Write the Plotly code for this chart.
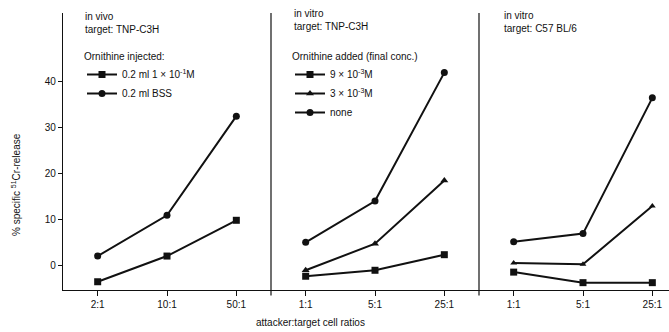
import plotly.graph_objects as go

# ---- data ----
p1_ratios = ["2:1", "10:1", "50:1"]
p2_ratios = ["1:1", "5:1", "25:1"]
p3_ratios = ["1:1", "5:1", "25:1"]

p1_orn = [-3.6, 2.0, 9.8]
p1_bss = [2.0, 10.9, 32.5]

p2_9e3 = [-2.4, -1.1, 2.3]
p2_3e3 = [-1.1, 4.7, 18.5]
p2_none = [5.0, 14.0, 42.0]

p3_9e3 = [-1.5, -3.8, -3.8]
p3_3e3 = [0.5, 0.2, 12.9]
p3_none = [5.1, 6.9, 36.5]

y_ticks = [0, 10, 20, 30, 40]

INK = "#111111"
FONT = "Liberation Sans, Arial, sans-serif"

fig = go.Figure()

def add(x, y, xa, symbol, size, name, legend, show):
    fig.add_trace(go.Scatter(
        x=x, y=y, xaxis=xa, yaxis="y", mode="lines+markers",
        line=dict(color=INK, width=2),
        marker=dict(symbol=symbol, size=size, color=INK),
        name=name, legend=legend, showlegend=show,
    ))

add(p1_ratios, p1_orn, "x", "square", 7, "0.2 ml 1 × 10<sup>-1</sup>M", "legend", True)
add(p1_ratios, p1_bss, "x", "circle", 7, "0.2 ml BSS", "legend", True)

add(p2_ratios, p2_9e3, "x2", "square", 7, "9 × 10<sup>-3</sup>M", "legend2", True)
add(p2_ratios, p2_3e3, "x2", "triangle-up", 7, "3 × 10<sup>-3</sup>M", "legend2", True)
add(p2_ratios, p2_none, "x2", "circle", 7, "none", "legend2", True)

add(p3_ratios, p3_9e3, "x3", "square", 7, "9 × 10<sup>-3</sup>M", "legend2", False)
add(p3_ratios, p3_3e3, "x3", "triangle-up", 6, "3 × 10<sup>-3</sup>M", "legend2", False)
add(p3_ratios, p3_none, "x3", "circle", 7, "none", "legend2", False)

W, H = 669, 332
L, R, T, B = 63, 0, 13, 42
pw = W - L - R
ph = H - T - B
panel_px = 208
d1 = panel_px / pw
d2 = 2 * panel_px / pw

xcommon = dict(
    type="category", showline=True, linecolor=INK, linewidth=1.2,
    ticks="outside", ticklen=5, tickcolor=INK, tickwidth=1.2,
    showgrid=False, zeroline=False, anchor="y",
    tickfont=dict(family=FONT, size=10, color=INK),
)

fig.update_layout(
    width=W, height=H,
    margin=dict(l=L, r=R, t=T, b=B),
    paper_bgcolor="white", plot_bgcolor="white",
    font=dict(family=FONT, size=10, color=INK),
    xaxis=dict(domain=[0, d1], range=[-0.5, 2.5], **xcommon),
    xaxis2=dict(domain=[d1, d2], range=[-0.5, 2.5], **xcommon),
    xaxis3=dict(domain=[d2, 1], range=[-0.5, 2.5 - (3 * panel_px - pw) / (panel_px / 3)], **xcommon),
    yaxis=dict(
        range=[-5.4, 55], tickvals=y_ticks, showline=True, linecolor=INK, linewidth=1.2,
        ticks="outside", ticklen=4, tickcolor=INK, showgrid=False, zeroline=False,
        tickfont=dict(family=FONT, size=10, color=INK),
    ),
    legend=dict(
        x=(82 - L) / pw, y=(H - B - 47) / ph, xanchor="left", yanchor="top",
        title=dict(text="Ornithine injected:", font=dict(size=10)),
        font=dict(size=10), bgcolor="rgba(0,0,0,0)", itemwidth=30,
        tracegroupgap=0,
    ),
    legend2=dict(
        x=(290 - L) / pw, y=(H - B - 47) / ph, xanchor="left", yanchor="top",
        title=dict(text="Ornithine added (final conc.)", font=dict(size=10)),
        font=dict(size=10), bgcolor="rgba(0,0,0,0)", itemwidth=30,
        tracegroupgap=0,
    ),
)

# panel dividers
for xd in (d1, d2):
    fig.add_shape(type="line", xref="paper", yref="paper", x0=xd, x1=xd,
                  y0=-0.02, y1=1, line=dict(color=INK, width=1.2))

def note(px, py, text):
    fig.add_annotation(xref="paper", yref="paper", x=(px - L) / pw, y=(H - B - py) / ph,
                       xanchor="left", yanchor="top", text=text, showarrow=False, align="left",
                       font=dict(family=FONT, size=10, color=INK))

note(83, 9, "in vivo<br>target: TNP-C3H")
note(292, 6, "in vitro<br>target: TNP-C3H")
note(502, 8, "in vitro<br>target: C57 BL/6")

fig.add_annotation(xref="paper", yref="paper", x=(310 - L) / pw, y=-(322 - (H - B)) / ph,
                   xanchor="center", yanchor="middle", text="attacker:target cell ratios",
                   showarrow=False, font=dict(family=FONT, size=10, color=INK))
fig.add_annotation(xref="paper", yref="paper", x=(16 - L) / pw, y=(H - B - 185) / ph,
                   xanchor="center", yanchor="middle", textangle=-90,
                   text="% specific <sup>51</sup>Cr-release",
                   showarrow=False, font=dict(family=FONT, size=10, color=INK))

fig.write_html(
    "out.html",
    config={"displayModeBar": False},
    post_script="document.body.style.margin='0';document.body.style.overflow='hidden';",
)
